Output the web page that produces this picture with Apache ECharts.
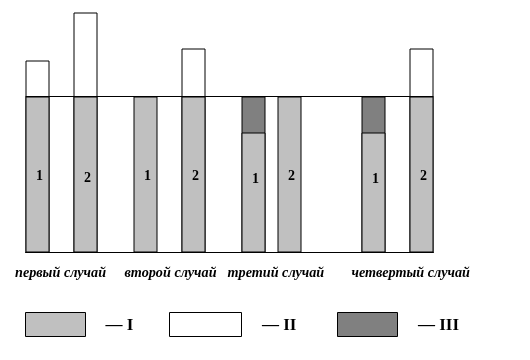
<!DOCTYPE html>
<html><head><meta charset="utf-8">
<script src="https://cdn.jsdelivr.net/npm/echarts@6/dist/echarts.min.js"></script>
<style>html,body{margin:0;padding:0;background:#fff}#c{width:530px;height:360px}</style>
</head><body><div id="c"></div>
<script>
// bar positions along the horizontal scale (units)
const barPositions = [1, 5, 10, 14, 19, 22, 29, 33];
const barLabels = ['1', '2', '1', '2', '1', '2', '1', '2'];
// series values (segment heights)
const seriesI = [13, 13, 13, 13, 10, 13, 10, 13];
const seriesIII = [0, 0, 0, 0, 3, 0, 3, 0];
const seriesII = [3, 7, 0, 4, 0, 0, 0, 4];
const caseNames = ['первый случай', 'второй случай', 'третий случай', 'четвертый случай'];
const legendNames = ['— I', '— II', '— III'];
const levelLine = 13;

const serif = '"Liberation Serif", "Times New Roman", serif';
const chart = echarts.init(document.getElementById('c'));

// cumulative tops: bars are drawn overlaid from the baseline, tallest first
const topIII = seriesI.map((v, i) => v + seriesIII[i]);
const topII = topIII.map((v, i) => v + seriesII[i]);
function toData(tops, seg) {
  return tops.map((v, i) => [barPositions[i], seg[i] === 0 ? '-' : v]);
}
const labelOffsets = seriesI.map((v, i) => {
  if (v < levelLine) return [2, -13];
  return [2, i === 1 ? 4 : 2];
});
const itemBase = { borderColor: '#000', borderWidth: 1 };
const caseFont = 'italic bold 14.2px ' + serif;
const legFont = 'bold 17px ' + serif;

chart.setOption({
  animation: false,
  backgroundColor: '#fff',
  grid: { left: 25.5, top: 12.5, width: 408, height: 240 },
  xAxis: {
    type: 'value', min: 0, max: 34,
    axisLine: { show: true, onZero: false, lineStyle: { color: '#000', width: 1 } },
    axisTick: { show: false }, axisLabel: { show: false }, splitLine: { show: false }
  },
  yAxis: {
    type: 'value', min: 0, max: 20, show: false, splitLine: { show: false }
  },
  series: [
    {
      name: 'II', type: 'bar', barWidth: 24, barGap: '-100%',
      itemStyle: Object.assign({ color: '#ffffff' }, itemBase),
      data: toData(topII, seriesII)
    },
    {
      name: 'III', type: 'bar', barWidth: 24, barGap: '-100%',
      itemStyle: Object.assign({ color: '#808080' }, itemBase),
      data: toData(topIII, seriesIII)
    },
    {
      name: 'I', type: 'bar', barWidth: 24, barGap: '-100%',
      itemStyle: Object.assign({ color: '#c0c0c0' }, itemBase),
      data: seriesI.map((v, i) => ({
        value: [barPositions[i], v],
        label: { show: true, position: 'inside', offset: labelOffsets[i], formatter: barLabels[i],
          fontFamily: serif, fontWeight: 'bold', fontSize: 14, color: '#000' }
      })),
      markLine: {
        silent: true, symbol: 'none', label: { show: false },
        lineStyle: { color: '#000', width: 1, type: 'solid' },
        data: [{ yAxis: levelLine }]
      }
    }
  ],
  graphic: [
    { type: 'text', x: 15, y: 273.5, style: { text: caseNames[0], font: caseFont, fill: '#000', verticalAlign: 'middle' } },
    { type: 'text', x: 124.5, y: 273.5, style: { text: caseNames[1], font: caseFont, fill: '#000', verticalAlign: 'middle' } },
    { type: 'text', x: 227.5, y: 273.5, style: { text: caseNames[2], font: caseFont, fill: '#000', verticalAlign: 'middle' } },
    { type: 'text', x: 351.5, y: 273.5, style: { text: caseNames[3], font: caseFont, fill: '#000', verticalAlign: 'middle' } },
    { type: 'rect', shape: { x: 25.5, y: 312.5, width: 60, height: 24 }, style: { fill: '#c0c0c0', stroke: '#000', lineWidth: 1 } },
    { type: 'rect', shape: { x: 169.5, y: 312.5, width: 72, height: 24 }, style: { fill: '#fff', stroke: '#000', lineWidth: 1 } },
    { type: 'rect', shape: { x: 337.5, y: 312.5, width: 60, height: 24 }, style: { fill: '#808080', stroke: '#000', lineWidth: 1 } },
    { type: 'text', x: 105.5, y: 326, style: { text: legendNames[0], font: legFont, fill: '#000', verticalAlign: 'middle' } },
    { type: 'text', x: 262, y: 326, style: { text: legendNames[1], font: legFont, fill: '#000', verticalAlign: 'middle' } },
    { type: 'text', x: 418, y: 326, style: { text: legendNames[2], font: legFont, fill: '#000', verticalAlign: 'middle' } }
  ]
});
</script></body></html>
